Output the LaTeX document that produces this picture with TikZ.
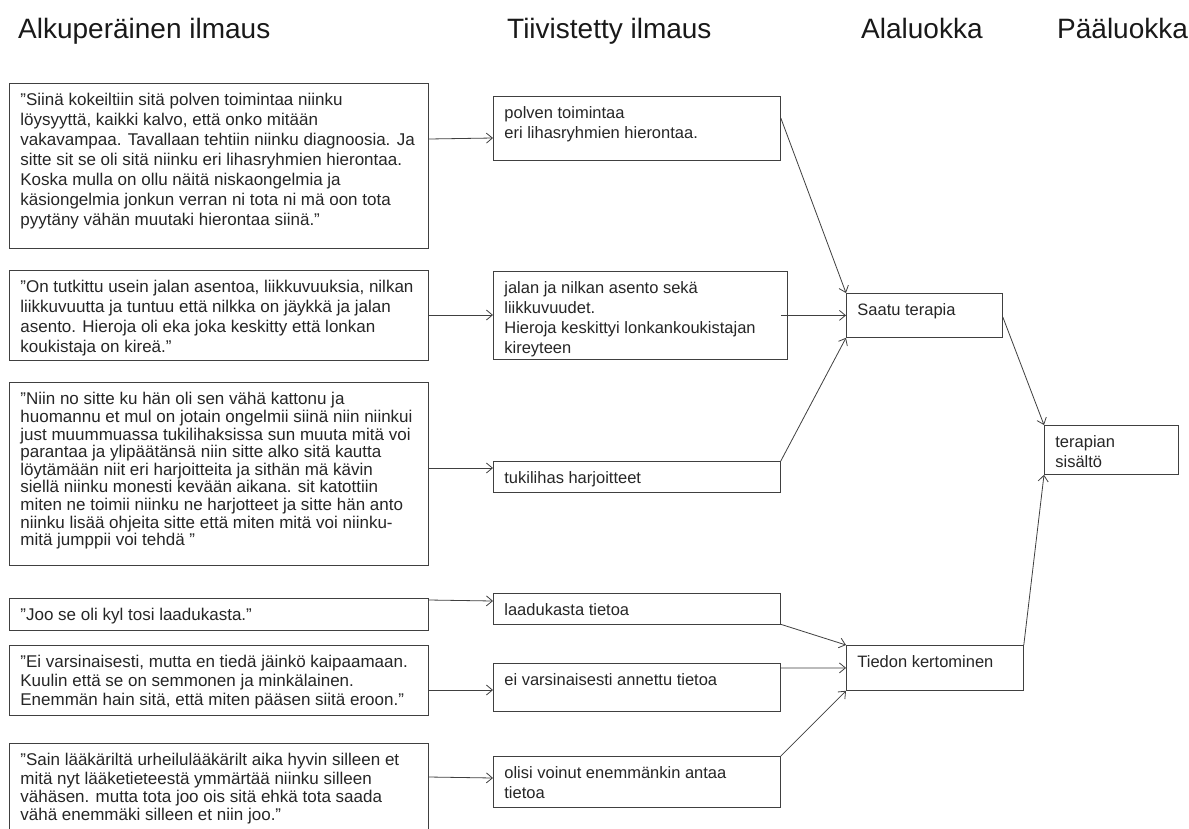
\documentclass[tikz,border=0pt]{standalone}
\usepackage{fontspec}
\setmainfont{Liberation Sans}
\usetikzlibrary{arrows.meta,calc}

% top aligned text of a box: width, height, lines
\newcommand{\celltext}[3]{\parbox[t][#2pt][t]{#1pt}{\raggedright\rule{0pt}{14.5pt}#3}}

\tikzset{
  colhead/.style={anchor=base west,inner sep=0pt,font=\fontsize{28}{32}\selectfont,text=black!90},
  origbox/.style={draw=black!75,line width=0.8pt,anchor=north west,inner xsep=11pt,inner ysep=8pt,
    font=\fontsize{17}{20}\selectfont,text=black!85},
  sumbox/.style={origbox,font=\fontsize{16.5}{19.7}\selectfont},
  link/.style={draw=black!75,line width=0.8pt,-{Straight Barb[length=6pt,width=10pt]}}
}

\begin{document}
\begin{tikzpicture}[x=1pt,y=-1pt]
\path[use as bounding box,fill=white] (0,0) rectangle (1189,828);
% column titles
\node[colhead] (h1) at (18,38) {Alkuperäinen ilmaus};
\node[colhead] (h2) at (507,38) {Tiivistetty ilmaus};
\node[colhead] (h3) at (861,38) {Alaluokka};
\node[colhead] (h4) at (1057,38) {Pääluokka};
% original expressions
\node[origbox] (a1) at (9,83) {\celltext{397}{149}{"Siinä kokeiltiin sitä polven toimintaa niinku\\
löysyyttä, kaikki kalvo, että onko mitään\\
vakavampaa. Tavallaan tehtiin niinku diagnoosia. Ja\\
sitte sit se oli sitä niinku eri lihasryhmien hierontaa.\\
Koska mulla on ollu näitä niskaongelmia ja\\
käsiongelmia jonkun verran ni tota ni mä oon tota\\
pyytäny vähän muutaki hierontaa siinä."}};
\node[origbox] (a2) at (9,270) {\celltext{397}{74}{"On tutkittu usein jalan asentoa, liikkuvuuksia, nilkan\\
liikkuvuutta ja tuntuu että nilkka on jäykkä ja jalan\\
asento. Hieroja oli eka joka keskitty että lonkan\\
koukistaja on kireä."}};
\node[origbox,font=\fontsize{17}{17.6}\selectfont] (a3) at (9,382) {\celltext{397}{167}{"Niin no sitte ku hän oli sen vähä kattonu ja\\
huomannu et mul on jotain ongelmii siinä niin niinkui\\
just muummuassa tukilihaksissa sun muuta mitä voi\\
parantaa ja ylipäätänsä niin sitte alko sitä kautta\\
löytämään niit eri harjoitteita ja sithän mä kävin\\
siellä niinku monesti kevään aikana. sit katottiin\\
miten ne toimii niinku ne harjotteet ja sitte hän anto\\
niinku lisää ohjeita sitte että miten mitä voi niinku-\\
mitä jumppii voi tehdä "}};
\node[origbox] (a4) at (9,598) {\celltext{397}{16}{"Joo se oli kyl tosi laadukasta."}};
\node[origbox,font=\fontsize{17}{19}\selectfont] (a5) at (9,645) {\celltext{397}{54}{"Ei varsinaisesti, mutta en tiedä jäinkö kaipaamaan.\\
Kuulin että se on semmonen ja minkälainen.\\
Enemmän hain sitä, että miten pääsen siitä eroon."}};
\node[origbox,font=\fontsize{17}{18.3}\selectfont] (a6) at (9,743) {\celltext{397}{79}{"Sain lääkäriltä urheilulääkärilt aika hyvin silleen et\\
mitä nyt lääketieteestä ymmärtää niinku silleen\\
vähäsen. mutta tota joo ois sitä ehkä tota saada\\
vähä enemmäki silleen et niin joo."}};
% condensed expressions
\node[sumbox] (b1) at (493,96) {\celltext{265}{48}{polven toimintaa\\ eri lihasryhmien hierontaa.}};
\node[sumbox] (b2) at (493,271) {\celltext{272}{72}{jalan ja nilkan asento sekä\\ liikkuvuudet.\\
Hieroja keskittyi lonkankoukistajan\\ kireyteen}};
\node[sumbox] (b3) at (493,461) {\celltext{265}{14}{tukilihas harjoitteet}};
\node[sumbox] (b4) at (493,593) {\celltext{265}{14}{laadukasta tietoa}};
\node[sumbox] (b5) at (493,663) {\celltext{265}{32}{ei varsinaisesti annettu tietoa}};
\node[sumbox] (b6) at (493,756) {\celltext{265}{35}{olisi voinut enemmänkin antaa\\ tietoa}};
% sub and main categories
\node[sumbox] (c1) at (846,293) {\celltext{134}{28}{Saatu terapia}};
\node[sumbox] (c2) at (846,645) {\celltext{155}{29}{Tiedon kertominen}};
\node[sumbox] (d) at (1044,425) {\celltext{112}{33}{terapian\\ sisältö}};
% arrows
\draw[link] ([yshift=-56pt]a1.north east) -- ([yshift=-42pt]b1.north west);
\draw[link] ([yshift=-45pt]a2.north east) -- ([yshift=-44pt]b2.north west);
\draw[link] ([yshift=-86pt]a3.north east) -- ([yshift=-7pt]b3.north west);
\draw[link] ([yshift=-2pt]a4.north east) -- ([yshift=-8pt]b4.north west);
\draw[link] ([yshift=-45pt]a5.north east) -- ([yshift=-27pt]b5.north west);
\draw[link] ([yshift=-34pt]a6.north east) -- ([yshift=-22pt]b6.north west);
\draw[link] ([yshift=-22pt]b1.north east) -- (c1.north west);
\draw[link] ([xshift=-7pt]b2.east) -- (c1.west);
\draw[link] (b3.north east) -- (c1.south west);
\draw[link] (b4.south east) -- (c2.north west);
\draw[link] ([yshift=-5pt]b5.north east) -- (c2.west);
\draw[link] (b6.north east) -- (c2.south west);
\draw[link] ([yshift=-24pt]c1.north east) -- (d.north west);
\draw[link] (c2.north east) -- (d.south west);
\end{tikzpicture}
\end{document}
